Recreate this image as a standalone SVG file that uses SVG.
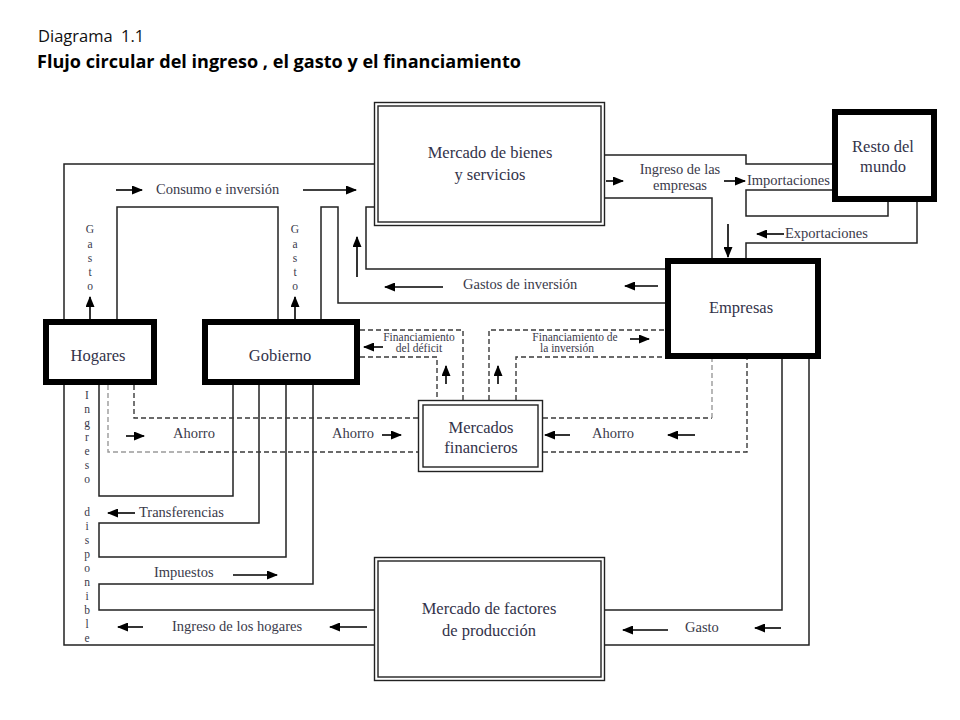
<svg xmlns="http://www.w3.org/2000/svg" width="960" height="720" viewBox="0 0 960 720">
<style>
.ln{fill:none;stroke:#222;stroke-width:1.5}
.ds{fill:none;stroke:#3a3a3a;stroke-width:1.4;stroke-dasharray:5 3}
.dg{fill:none;stroke:#9a9a9a;stroke-width:1.4;stroke-dasharray:5 3}
.ar{fill:none;stroke:#000;stroke-width:1.6;marker-end:url(#ah)}
.thick{fill:#fff;stroke:#000;stroke-width:6}
.dbl{fill:#fff;stroke:#222;stroke-width:1.4}
.node{font-family:"Liberation Serif",serif;font-size:16.5px;fill:#33334a;text-anchor:middle}
.lbl{font-family:"Liberation Serif",serif;font-size:14.5px;fill:#3a3a4a}
.sm{font-family:"Liberation Serif",serif;font-size:11.5px;fill:#3a3a4a;text-anchor:middle}
.vt{font-family:"Liberation Serif",serif;font-size:11.5px;fill:#3a3a4a;text-anchor:middle}
.mid{text-anchor:middle}
</style>
<defs>
<marker id="ah" markerUnits="userSpaceOnUse" markerWidth="11" markerHeight="9" refX="10" refY="4.5" orient="auto">
<path d="M0,0 L11,4.5 L0,9 z" fill="#000"/>
</marker>
</defs>
<rect width="960" height="720" fill="#fff"/>
<g id="title">
<text font-family="'Open Sans','Liberation Sans',sans-serif" font-size="16.5" fill="#111" y="42"><tspan x="38">Diagrama</tspan><tspan x="121">1.1</tspan></text>
<text font-family="'Open Sans','Liberation Sans',sans-serif" font-size="17" font-weight="bold" fill="#000" x="37" y="68" textLength="484" lengthAdjust="spacingAndGlyphs">Flujo circular del ingreso , el gasto y el financiamiento</text>
</g>
<g id="connectors">
<path class="ln" d="M64,319 V164 H374"/>
<path class="ln" d="M117,319 V207 H278 V319"/>
<path class="ln" d="M321,319 V207 H338 V303 H665"/>
<path class="ln" d="M665,269 H366 V207 H374"/>
<path class="ln" d="M605,155 H746 V164 H832"/>
<path class="ln" d="M605,198 H712 V258"/>
<path class="ln" d="M832,190 H746 V216 H888 V202"/>
<path class="ln" d="M746,258 V243 H917 V202"/>
<path class="ln" d="M64,385 V645 H374"/>
<path class="ln" d="M99,385 V496 H233 V385"/>
<path class="ln" d="M259,385 V523 H99 V557 H286 V385"/>
<path class="ln" d="M313,385 V584 H99 V610 H374"/>
<path class="ln" d="M782,359 V610 H605"/>
<path class="ln" d="M809,359 V645 H605"/>
<path class="dg" d="M108,385 V452 H200"/>
<path class="ds" d="M200,452 H418"/>
<path class="ds" d="M134,385 V418 H418"/>
<path class="ds" d="M360,330 H463 V400"/>
<path class="ds" d="M360,357 H437 V400"/>
<path class="ds" d="M489,400 V330 H665"/>
<path class="ds" d="M516,400 V357 H665"/>
<path class="ds" d="M543,418 H712"/>
<path class="dg" d="M712,418 V359"/>
<path class="ds" d="M543,452 H747 V359"/>
<line class="ar" x1="116" y1="190" x2="142" y2="190"/>
<line class="ar" x1="303" y1="190" x2="356" y2="190"/>
<line class="ar" x1="90" y1="319" x2="90" y2="297"/>
<line class="ar" x1="295" y1="319" x2="295" y2="297"/>
<line class="ar" x1="357" y1="277" x2="357" y2="237"/>
<line class="ar" x1="606" y1="181" x2="623" y2="181"/>
<line class="ar" x1="724" y1="181" x2="745" y2="181"/>
<line class="ar" x1="728" y1="224" x2="728" y2="257"/>
<line class="ar" x1="784" y1="234" x2="757" y2="234"/>
<line class="ar" x1="658" y1="286" x2="625" y2="286"/>
<line class="ar" x1="443" y1="287" x2="385" y2="287"/>
<line class="ar" x1="126" y1="436" x2="144" y2="436"/>
<line class="ar" x1="382" y1="435" x2="401" y2="435"/>
<line class="ar" x1="570" y1="435" x2="545" y2="435"/>
<line class="ar" x1="695" y1="435" x2="668" y2="435"/>
<line class="ar" x1="383" y1="347" x2="364" y2="347"/>
<line class="ar" x1="446" y1="384" x2="446" y2="366"/>
<line class="ar" x1="498" y1="384" x2="498" y2="366"/>
<line class="ar" x1="630" y1="339" x2="649" y2="339"/>
<line class="ar" x1="135" y1="513" x2="108" y2="513"/>
<line class="ar" x1="233" y1="575" x2="277" y2="575"/>
<line class="ar" x1="143" y1="627" x2="118" y2="627"/>
<line class="ar" x1="367" y1="627" x2="330" y2="627"/>
<line class="ar" x1="668" y1="630" x2="623" y2="630"/>
<line class="ar" x1="781" y1="628" x2="755" y2="628"/>
<text class="lbl" x="156" y="194">Consumo e inversión</text>
<text class="lbl" x="463" y="289">Gastos de inversión</text>
<text class="lbl mid" x="680" y="174">Ingreso de las</text>
<text class="lbl mid" x="680" y="190">empresas</text>
<text class="lbl" x="747" y="185">Importaciones</text>
<text class="lbl" x="785" y="238">Exportaciones</text>
<text class="lbl" x="173" y="438">Ahorro</text>
<text class="lbl" x="332" y="438">Ahorro</text>
<text class="lbl" x="592" y="438">Ahorro</text>
<text class="sm" x="419" y="341">Financiamiento</text>
<text class="sm" x="419" y="352">del déficit</text>
<text class="sm" x="575" y="341">Financiamiento de</text>
<text class="sm" x="567" y="352">la inversión</text>
<text class="lbl" x="139" y="517">Transferencias</text>
<text class="lbl" x="154" y="577">Impuestos</text>
<text class="lbl" x="172" y="631">Ingreso de los hogares</text>
<text class="lbl" x="685" y="632">Gasto</text>
<text class="vt"><tspan x="90" y="233">G</tspan><tspan x="90" y="248">a</tspan><tspan x="90" y="262">s</tspan><tspan x="90" y="276">t</tspan><tspan x="90" y="290">o</tspan></text>
<text class="vt"><tspan x="295" y="233">G</tspan><tspan x="295" y="248">a</tspan><tspan x="295" y="262">s</tspan><tspan x="295" y="276">t</tspan><tspan x="295" y="290">o</tspan></text>
<text class="vt"><tspan x="87" y="399">I</tspan><tspan x="87" y="413">n</tspan><tspan x="87" y="427">g</tspan><tspan x="87" y="441">r</tspan><tspan x="87" y="455">e</tspan><tspan x="87" y="469">s</tspan><tspan x="87" y="483">o</tspan><tspan x="87" y="516">d</tspan><tspan x="87" y="530">i</tspan><tspan x="87" y="544">s</tspan><tspan x="87" y="558">p</tspan><tspan x="87" y="572">o</tspan><tspan x="87" y="586">n</tspan><tspan x="87" y="600">i</tspan><tspan x="87" y="614">b</tspan><tspan x="87" y="628">l</tspan><tspan x="87" y="642">e</tspan></text>
</g>
<g id="mercado-bienes">
<rect class="dbl" x="374.5" y="102.5" width="230" height="123"/>
<rect class="dbl" x="378" y="106" width="223" height="116"/>
<text class="node" x="490" y="158">Mercado de bienes</text>
<text class="node" x="490" y="180">y servicios</text>
</g>
<g id="resto-mundo">
<rect class="thick" x="835" y="112" width="99" height="87"/>
<text class="node" x="883" y="152">Resto del</text>
<text class="node" x="883" y="172">mundo</text>
</g>
<g id="empresas">
<rect class="thick" x="668" y="261" width="150" height="95"/>
<text class="node" x="741" y="313">Empresas</text>
</g>
<g id="hogares">
<rect class="thick" x="46" y="322" width="108" height="60"/>
<text class="node" x="98" y="361">Hogares</text>
</g>
<g id="gobierno">
<rect class="thick" x="205" y="322" width="152" height="60"/>
<text class="node" x="280" y="361">Gobierno</text>
</g>
<g id="mercados-financieros">
<rect class="dbl" x="418.5" y="400.5" width="124" height="71"/>
<rect class="dbl" x="423" y="405" width="115" height="62"/>
<text class="node" x="481" y="433">Mercados</text>
<text class="node" x="481" y="453">financieros</text>
</g>
<g id="mercado-factores">
<rect class="dbl" x="374.5" y="557.5" width="230" height="123"/>
<rect class="dbl" x="378" y="561" width="223" height="116"/>
<text class="node" x="489" y="614">Mercado de factores</text>
<text class="node" x="489" y="636">de producción</text>
</g>
</svg>
